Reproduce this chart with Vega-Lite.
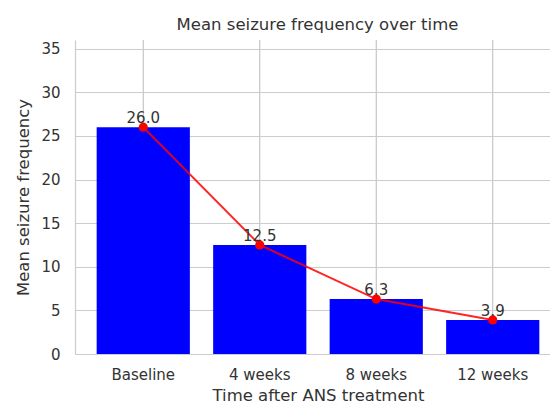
{
  "$schema": "https://vega.github.io/schema/vega-lite/v6.json",
  "autosize": {"type": "none"},
  "padding": {"left": 75, "top": 40, "right": 0, "bottom": 51},
  "width": 475,
  "height": 314,
  "background": "white",
  "config": {
    "view": {"stroke": null},
    "font": "DejaVu Sans"
  },
  "title": {
    "text": "Mean seizure frequency over time",
    "font": "DejaVu Sans",
    "fontSize": 16.5,
    "fontWeight": "normal",
    "color": "#333333",
    "offset": 6,
    "anchor": "middle",
    "dx": 5
  },
  "data": {
    "values": [
      {"time": "Baseline", "mean": 26.0},
      {"time": "4 weeks", "mean": 12.5},
      {"time": "8 weeks", "mean": 6.3},
      {"time": "12 weeks", "mean": 3.9}
    ]
  },
  "encoding": {
    "x": {
      "field": "time",
      "type": "nominal",
      "sort": null,
      "title": "Time after ANS treatment",
      "scale": {"range": [0, 486], "paddingInner": 0.2, "paddingOuter": 0.186},
      "axis": {
        "zindex": 0,
        "grid": true,
        "gridColor": "#cccccc",
        "gridWidth": 1,
        "bandPosition": 0.5,
        "domainColor": "#cccccc",
        "domainWidth": 1.2,
        "ticks": false,
        "labelAngle": 0,
        "labelFont": "DejaVu Sans",
        "labelFontSize": 15,
        "labelColor": "#333333",
        "labelPadding": 13,
        "titleFont": "DejaVu Sans",
        "titleFontSize": 16.5,
        "titleFontWeight": "normal",
        "titleColor": "#333333",
        "titlePadding": 5
      }
    }
  },
  "layer": [
    {
      "mark": {"type": "rule", "color": "#cccccc", "strokeWidth": 1.2},
      "encoding": {"y": {"datum": 36}}
    },
    {
      "mark": {"type": "bar", "color": "#0000ff"},
      "encoding": {
        "y": {
          "field": "mean",
          "type": "quantitative",
          "title": "Mean seizure frequency",
          "scale": {"domain": [0, 36], "nice": false, "zero": true},
          "axis": {
            "zindex": 0,
            "values": [0, 5, 10, 15, 20, 25, 30, 35],
            "grid": true,
            "gridColor": "#cccccc",
            "gridWidth": 1,
            "domainColor": "#cccccc",
            "domainWidth": 1.2,
            "ticks": false,
            "tickSize": 0,
            "labelFont": "DejaVu Sans",
            "labelFontSize": 15,
            "labelColor": "#333333",
            "labelPadding": 15,
            "titleFont": "DejaVu Sans",
            "titleFontSize": 16.5,
            "titleFontWeight": "normal",
            "titleColor": "#333333",
            "titlePadding": 9
          }
        }
      }
    },
    {
      "mark": {"type": "line", "color": "#ff0000", "strokeWidth": 2, "opacity": 0.85},
      "encoding": {"y": {"field": "mean", "type": "quantitative"}}
    },
    {
      "mark": {"type": "point", "filled": true, "color": "#ff0000", "size": 85, "opacity": 1},
      "encoding": {"y": {"field": "mean", "type": "quantitative"}}
    },
    {
      "mark": {"type": "text", "dy": -4, "baseline": "alphabetic", "align": "center", "fontSize": 15, "font": "DejaVu Sans", "color": "#333333"},
      "encoding": {
        "y": {"field": "mean", "type": "quantitative"},
        "text": {"field": "mean", "type": "quantitative", "format": ".1f"}
      }
    }
  ]
}
